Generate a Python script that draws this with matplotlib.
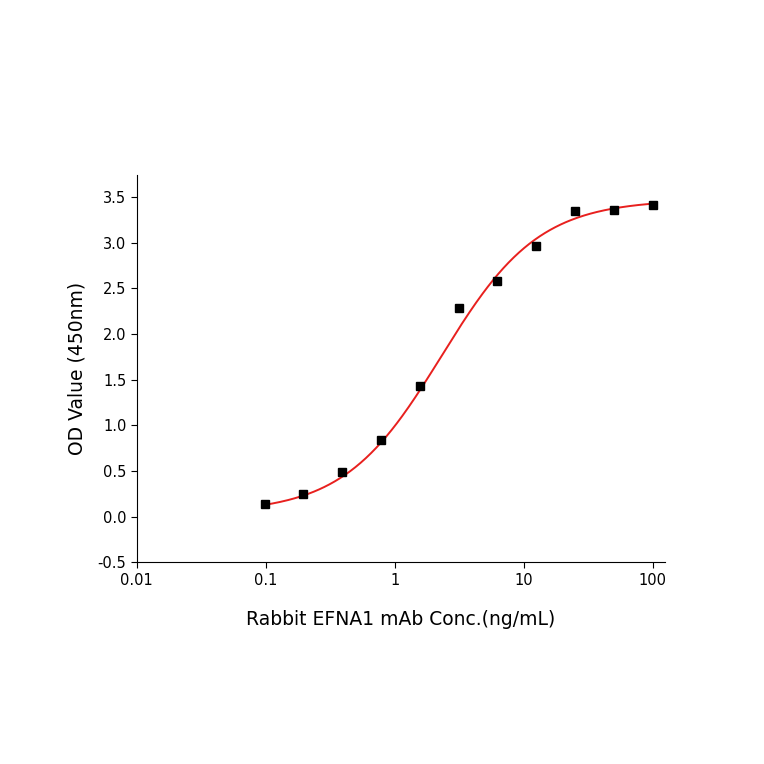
import numpy as np
import matplotlib
matplotlib.use("Agg")
import matplotlib.pyplot as plt

conc = [0.098, 0.195, 0.39, 0.78, 1.56, 3.125, 6.25, 12.5, 25, 50, 100]
od = [0.14, 0.25, 0.49, 0.84, 1.43, 2.28, 2.58, 2.96, 3.35, 3.36, 3.41]
xticks = [0.01, 0.1, 1, 10, 100]
xticklabels = ["0.01", "0.1", "1", "10", "100"]
yticks = [-0.5, 0.0, 0.5, 1.0, 1.5, 2.0, 2.5, 3.0, 3.5]

# 4PL fit parameters (bottom, top, EC50, hill)
bottom, top, ec50, hill = 0.04, 3.47, 2.3, 1.15

fig = plt.figure(figsize=(7.64, 7.64), dpi=100)
ax = fig.add_axes([0.179, 0.264, 0.691, 0.507])
xs = np.logspace(np.log10(0.098), 2, 300)
ys = bottom + (top - bottom) / (1 + (ec50 / xs) ** hill)
ax.plot(xs, ys, color="#e8201e", lw=1.4)
ax.plot(conc, od, "s", color="black", ms=6)
ax.set_xscale("log")
ax.set_xlim(0.01, 124)
ax.set_ylim(-0.5, 3.74)
ax.set_xticks(xticks)
ax.set_xticklabels(xticklabels)
ax.minorticks_off()
ax.set_yticks(yticks)
ax.set_yticklabels([f"{v:.1f}" for v in yticks])
for s in ["top", "right"]:
    ax.spines[s].set_visible(False)
ax.tick_params(labelsize=10.5, direction="out", length=4)
ax.set_xlabel("Rabbit EFNA1 mAb Conc.(ng/mL)", fontsize=13.5, labelpad=16)
ax.set_ylabel("OD Value (450nm)", fontsize=13.5, labelpad=8)
fig.savefig("out.png", dpi=100)
